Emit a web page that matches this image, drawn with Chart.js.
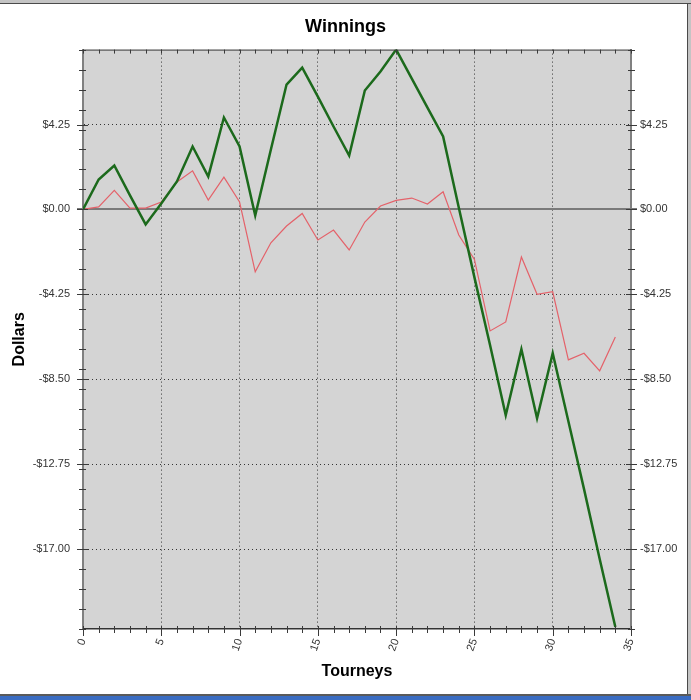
<!DOCTYPE html>
<html>
<head>
<meta charset="utf-8">
<title>Winnings</title>
<script src="https://cdn.jsdelivr.net/npm/chart.js@4.4.1/dist/chart.umd.min.js"></script>
<style>
  html, body { margin: 0; padding: 0; background: #ffffff; }
  #wrap { position: relative; width: 691px; height: 700px; overflow: hidden; }
  #frame-top { position: absolute; left: 0; top: 0; width: 691px; height: 3px; background: #c4c4c4; border-bottom: 1px solid #4a4a4a; }
  #frame-right { position: absolute; top: 4px; right: 0; width: 3px; height: 690px; background: #c4c4c4; border-left: 1px solid #4a4a4a; }
  #frame-bottom { position: absolute; left: 0; bottom: 4px; width: 691px; height: 2px; background: #5a5a5a; }
  #taskbar { position: absolute; left: 0; bottom: 0; width: 691px; height: 4px; background: #3a6cc2; }
</style>
</head>
<body>
<div id="wrap">
  <canvas id="winningsChart" width="691" height="700"></canvas>
  <div id="frame-top"></div>
  <div id="frame-right"></div>
  <div id="frame-bottom"></div>
  <div id="taskbar"></div>
</div>
<script>
// tourney number on the x axis
const tourneys = [0, 1, 2, 3, 4, 5, 6, 7, 8, 9, 10, 11, 12, 13, 14, 15, 16, 17,
  18, 19, 20, 21, 22, 23, 24, 25, 26, 27, 28, 29, 30, 31, 32, 33, 34];

// thick green line
const greenWinnings = [0, 1.5, 2.2, 0.7, -0.75, 0.3, 1.4, 3.15, 1.65, 4.6, 3.15, -0.3,
  3.0, 6.25, 7.1, 5.65, 4.15, 2.7, 5.95, 6.9, 8.0, 6.55, 5.1, 3.65, 0.1, -3.4,
  -6.8, -10.3, -7.0, -10.45, -7.2, -10.6, -14.0, -17.5, -20.9];

// thin red line
const redWinnings = [0, 0.13, 0.95, 0.07, 0.07, 0.37, 1.37, 1.93, 0.47, 1.62, 0.37, -3.12,
  -1.67, -0.83, -0.2, -1.53, -1.03, -2.03, -0.63, 0.17, 0.45, 0.57, 0.27, 0.88, -1.28,
  -2.5, -6.08, -5.63, -2.38, -4.25, -4.12, -7.53, -7.2, -8.08, -6.38];

const dollarTicks = [-17, -12.75, -8.5, -4.25, 0, 4.25];
const tourneyTicks = [0, 5, 10, 15, 20, 25, 30, 35];
const dollarMin = -21;
const dollarMax = 8;
const tourneyMax = 35;

document.addEventListener('DOMContentLoaded', function() {
  const fontFamily = '"Liberation Sans", Arial, sans-serif';

  const formatDollar = (v) => {
    const s = '$' + Math.abs(v).toFixed(2);
    return v < 0 ? '-' + s : s;
  };

  const toPoints = (values) => values.map((v, i) => ({ x: tourneys[i], y: v }));

  // grey plot background, zero line, and the small tick marks on every side
  const plotDecor = {
    id: 'plotDecor',
    beforeDatasetsDraw(chart) {
      const { ctx, chartArea } = chart;
      const y = chart.scales.y;
      ctx.save();
      ctx.strokeStyle = '#7a7a7a';
      ctx.lineWidth = 2;
      const y0 = Math.round(y.getPixelForValue(0));
      ctx.beginPath();
      ctx.moveTo(chartArea.left - 6, y0);
      ctx.lineTo(chartArea.right + 6, y0);
      ctx.stroke();
      ctx.restore();
    },
    beforeDraw(chart) {
      const { ctx, chartArea } = chart;
      ctx.save();
      ctx.fillStyle = '#d4d4d4';
      ctx.fillRect(chartArea.left, chartArea.top, chartArea.right - chartArea.left, chartArea.bottom - chartArea.top);
      ctx.restore();
    },
    afterDraw(chart) {
      const { ctx, chartArea } = chart;
      const x = chart.scales.x;
      const y = chart.scales.y;
      ctx.save();
      ctx.strokeStyle = '#3a3a3a';
      ctx.lineWidth = 1;
      ctx.beginPath();
      // top border
      ctx.moveTo(chartArea.left, chartArea.top + 0.5);
      ctx.lineTo(chartArea.right, chartArea.top + 0.5);
      for (let v = dollarMin; v <= dollarMax; v++) {
        const py = Math.round(y.getPixelForValue(v)) + 0.5;
        ctx.moveTo(chartArea.left - 4, py);
        ctx.lineTo(chartArea.left + 3, py);
        ctx.moveTo(chartArea.right - 3, py);
        ctx.lineTo(chartArea.right + 4, py);
      }
      dollarTicks.forEach(v => {
        const py = Math.round(y.getPixelForValue(v)) + 0.5;
        ctx.moveTo(chartArea.left - 6, py);
        ctx.lineTo(chartArea.left + 5, py);
        ctx.moveTo(chartArea.right - 5, py);
        ctx.lineTo(chartArea.right + 6, py);
      });
      for (let t = 0; t <= tourneyMax; t++) {
        const px = Math.round(x.getPixelForValue(t)) + 0.5;
        const len = t % 5 === 0 ? 7 : 4;
        ctx.moveTo(px, chartArea.bottom - 3);
        ctx.lineTo(px, chartArea.bottom + len);
        ctx.moveTo(px, chartArea.top);
        ctx.lineTo(px, chartArea.top + 4);
      }
      ctx.stroke();
      ctx.restore();
    }
  };

  const winningsCtx = document.getElementById('winningsChart');
  if (winningsCtx) {
    new Chart(winningsCtx.getContext('2d'), {
      type: 'line',
      data: {
        datasets: [{
          label: 'Winnings',
          data: toPoints(greenWinnings),
          borderColor: '#1c6a1c',
          borderWidth: 2.5,
          pointRadius: 0,
          tension: 0
        }, {
          label: 'Expected',
          data: toPoints(redWinnings),
          borderColor: '#e4626a',
          borderWidth: 1.2,
          pointRadius: 0,
          tension: 0
        }]
      },
      options: {
        responsive: false,
        animation: false,
        layout: { padding: 0 },
        plugins: {
          legend: { display: false },
          tooltip: { enabled: false },
          title: {
            display: true,
            text: 'Winnings',
            color: '#000000',
            font: { family: fontFamily, size: 18, weight: 'bold' },
            padding: { top: 16, bottom: 12 }
          }
        },
        scales: {
          x: {
            type: 'linear',
            min: 0,
            max: tourneyMax,
            afterBuildTicks: (scale) => { scale.ticks = tourneyTicks.map(v => ({ value: v })); },
            afterFit: (scale) => { scale.height = 71; },
            ticks: {
              color: '#333333',
              font: { family: fontFamily, size: 11 },
              minRotation: 70,
              maxRotation: 70,
              padding: 8
            },
            grid: {
              color: (c) => (c.tick && (c.tick.value === 0 || c.tick.value === tourneyMax)) ? 'rgba(0,0,0,0)' : '#333333',
              drawTicks: false,
              lineWidth: 1
            },
            border: { display: true, color: '#333333', width: 1.5, dash: [1, 3] },
            title: {
              display: true,
              text: 'Tourneys',
              color: '#000000',
              font: { family: fontFamily, size: 16, weight: 'bold' },
              padding: { top: 0, bottom: 19 }
            }
          },
          y: {
            type: 'linear',
            position: 'left',
            min: dollarMin,
            max: dollarMax,
            afterBuildTicks: (scale) => { scale.ticks = dollarTicks.map(v => ({ value: v })); },
            afterFit: (scale) => { scale.width = 83; },
            ticks: {
              color: '#333333',
              font: { family: fontFamily, size: 11 },
              padding: 13,
              callback: (v) => formatDollar(v)
            },
            grid: {
              color: (c) => (c.tick && c.tick.value === 0) ? 'rgba(0,0,0,0)' : '#333333',
              drawTicks: false,
              lineWidth: 1
            },
            border: { display: true, color: '#808080', width: 2, dash: [1, 3] },
            title: {
              display: true,
              text: 'Dollars',
              color: '#000000',
              font: { family: fontFamily, size: 16, weight: 'bold' },
              padding: { top: 10, bottom: 0 }
            }
          },
          y2: {
            type: 'linear',
            position: 'right',
            min: dollarMin,
            max: dollarMax,
            afterBuildTicks: (scale) => { scale.ticks = dollarTicks.map(v => ({ value: v })); },
            afterFit: (scale) => { scale.width = 60; },
            ticks: {
              color: '#333333',
              font: { family: fontFamily, size: 11 },
              padding: 9,
              callback: (v) => formatDollar(v)
            },
            grid: { drawOnChartArea: false, drawTicks: false },
            border: { display: true, color: '#808080', width: 2 }
          }
        }
      },
      plugins: [plotDecor]
    });
  }
});
</script>
</body>
</html>
